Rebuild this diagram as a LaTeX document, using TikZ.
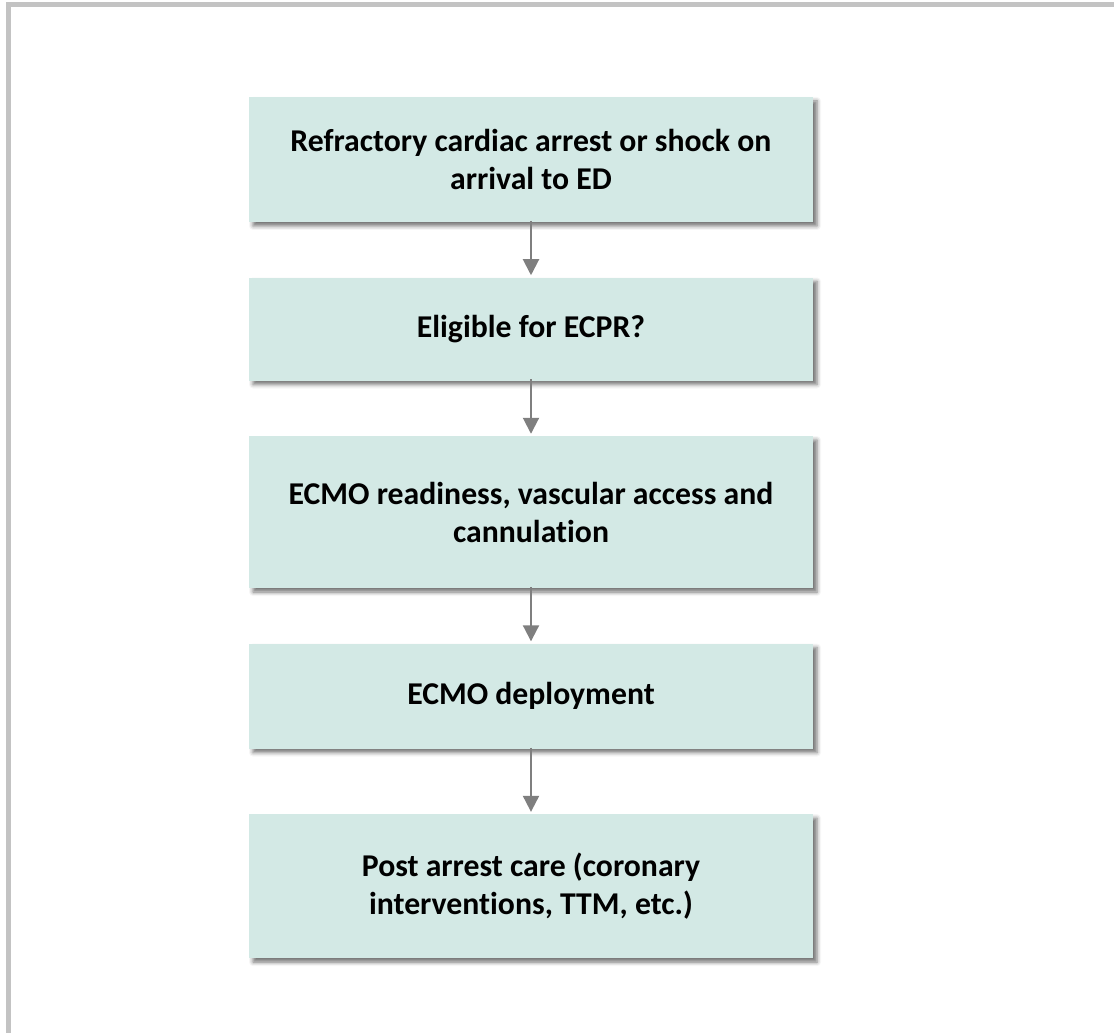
\documentclass[tikz,border=0pt]{standalone}
\usepackage{fontspec}
\setmainfont[Ligatures=NoCommon]{Carlito}
\usepackage{xcolor}
\usepackage{tikz}
\usetikzlibrary{positioning,arrows.meta,shadows.blur}

\definecolor{boxfill}{HTML}{D3E9E5}
\definecolor{arrowgray}{HTML}{7F7F7F}
\definecolor{framegray}{HTML}{C3C3C3}

\begin{document}
\begin{tikzpicture}[node distance=41.25pt,
    box/.style={rectangle, fill=boxfill, minimum width=423pt, text centered, align=center,
        font=\fontsize{23.8}{28.5}\selectfont\bfseries,
        blur shadow={shadow xshift=3pt, shadow yshift=-3pt, shadow blur radius=3pt, shadow opacity=55}},
    arrow/.style={line width=1.5pt, draw=arrowgray, -{Triangle[width=12pt,length=12pt]}}]

    \useasboundingbox (0,0) rectangle (835.5pt,-774.75pt);
    % partial frame
    \fill[framegray] (4.5pt,-1.5pt) rectangle (835.5pt,-5.25pt);
    \fill[framegray] (4.5pt,-1.5pt) rectangle (8.25pt,-774.75pt);

    \node (arrest) [box, minimum height=93.75pt] at (398.25pt,-119.6pt) {Refractory cardiac arrest or shock on\\arrival to ED};
    \node (eligible) [box, minimum height=77.25pt, below=of arrest] {Eligible for ECPR?};
    \node (ready) [box, minimum height=114pt, below=of eligible] {ECMO readiness, vascular access and\\cannulation};
    \node (deploy) [box, minimum height=78.75pt, below=of ready] {ECMO deployment};
    \node (post) [box, minimum height=108pt, below=48.75pt of deploy] {Post arrest care (coronary\\interventions, TTM, etc.)};

    \draw [arrow] ([yshift=1pt]arrest.south) -- ([yshift=1.5pt]eligible.north);
    \draw [arrow] ([yshift=1pt]eligible.south) -- ([yshift=1.5pt]ready.north);
    \draw [arrow] ([yshift=1pt]ready.south) -- ([yshift=1.5pt]deploy.north);
    \draw [arrow] ([yshift=1pt]deploy.south) -- ([yshift=1.5pt]post.north);
\end{tikzpicture}
\end{document}
